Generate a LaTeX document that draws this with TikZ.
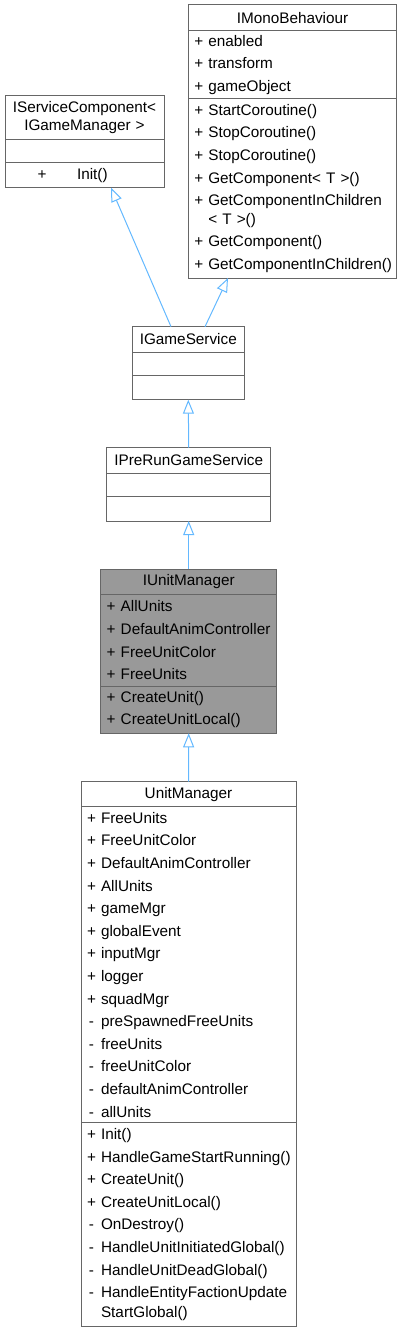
\documentclass[tikz,border=0pt]{standalone}
\usepackage{fontspec}
\setmainfont{Liberation Sans}
\usepackage{calc}
\usetikzlibrary{arrows.meta,calc}
\definecolor{boxgray}{HTML}{666666}
\definecolor{hifill}{HTML}{999999}
\definecolor{edgeblue}{HTML}{63B8FF}
\newcommand{\umlfont}{\fontsize{15.3}{22.6}\selectfont\hyphenpenalty=10000 }
\newcommand{\priv}{\makebox[\widthof{+}]{-}~}
\newcommand{\pub}{+~}
\tikzset{
  comp/.style={draw=boxgray, line width=1pt, anchor=north west, inner xsep=6pt,
    inner ysep=0pt, outer sep=0pt, align=left, font=\umlfont},
  ctitle/.style={comp, align=center},
  inh/.style={draw=edgeblue, line width=1pt, -{Triangle[open, length=14pt, width=11pt]}},
}
\begin{document}
\begin{tikzpicture}[x=1pt,y=-1pt]
\useasboundingbox (0,0) rectangle (402,1332);

% IServiceComponent< IGameManager >
\node[ctitle, text width=147pt, minimum height=43.3pt] (scT) at (5,96)
  {IServiceComponent<\\[-4.5pt]IGameManager >};
\node[comp, text width=147pt, minimum height=23.4pt] (scA) at (scT.south west) {};
\node[comp, text width=147pt, minimum height=25pt] (scM) at (scA.south west)
  {\hspace*{26.5pt}+\hspace{30.6pt}Init()};

% IMonoBehaviour
\node[ctitle, text width=196.4pt, minimum height=26pt] (mbT) at (188.3,5) {IMonoBehaviour};
\node[comp, text width=196.4pt, minimum height=67.7pt] (mbA) at (mbT.south west)
  {\pub enabled\\ \pub transform\\ \pub gameObject};
\node[comp, text width=196.4pt, minimum height=179.3pt] (mbM) at (mbA.south west)
  {\pub StartCoroutine()\\
   \pub StopCoroutine()\\
   \pub StopCoroutine()\\
   \pub GetComponent< T >()\\
   \pub GetComponentInChildren\\[-4.3pt]
   \phantom{+~}< T >()\\
   \pub GetComponent()\\
   \pub GetComponentInChildren()};

% IGameService
\node[ctitle, text width=100pt, minimum height=25.6pt] (gsT) at (132.3,326.7) {IGameService};
\node[comp, text width=100pt, minimum height=22.7pt] (gsA) at (gsT.south west) {};
\node[comp, text width=100pt, minimum height=24.7pt] (gsM) at (gsA.south west) {};

% IPreRunGameService
\node[ctitle, text width=152pt, minimum height=25.6pt] (prT) at (106.7,447.7) {IPreRunGameService};
\node[comp, text width=152pt, minimum height=23.4pt] (prA) at (prT.south west) {};
\node[comp, text width=152pt, minimum height=24.3pt] (prM) at (prA.south west) {};

% IUnitManager
\node[ctitle, fill=hifill, text width=164pt, minimum height=25.4pt] (iuT) at (100.7,569.3) {IUnitManager};
\node[comp, fill=hifill, text width=164pt, minimum height=91.3pt] (iuA) at (iuT.south west)
  {\pub AllUnits\\ \pub DefaultAnimController\\ \pub FreeUnitColor\\ \pub FreeUnits};
\node[comp, fill=hifill, text width=164pt, minimum height=47.3pt] (iuM) at (iuA.south west)
  {\pub CreateUnit()\\ \pub CreateUnitLocal()};

% UnitManager
\node[ctitle, text width=203pt, minimum height=25pt] (umT) at (81,781.7) {UnitManager};
\node[comp, text width=203pt, minimum height=316pt] (umA) at (umT.south west)
  {\pub FreeUnits\\
   \pub FreeUnitColor\\
   \pub DefaultAnimController\\
   \pub AllUnits\\
   \pub gameMgr\\
   \pub globalEvent\\
   \pub inputMgr\\
   \pub logger\\
   \pub squadMgr\\
   \priv preSpawnedFreeUnits\\
   \priv freeUnits\\
   \priv freeUnitColor\\
   \priv defaultAnimController\\
   \priv allUnits};
\node[comp, text width=203pt, minimum height=203.3pt] (umM) at (umA.south west)
  {\pub Init()\\
   \pub HandleGameStartRunning()\\
   \pub CreateUnit()\\
   \pub CreateUnitLocal()\\
   \priv OnDestroy()\\
   \priv HandleUnitInitiatedGlobal()\\
   \priv HandleUnitDeadGlobal()\\
   \priv HandleEntityFactionUpdate\\[-3.3pt]
   \phantom{+~}StartGlobal()};

% inheritance connectors
\draw[inh] ($(gsT.north west)+(38.7,0)$) -- ($(scM.south west)+(106,0)$);
\draw[inh] ($(gsT.north west)+(72.7,0)$) -- ($(mbM.south west)+(39.7,0)$);
\draw[inh] (prT.north) -- (gsM.south);
\draw[inh] (iuT.north) -- (prM.south);
\draw[inh] (umT.north) -- (iuM.south);
\end{tikzpicture}
\end{document}
